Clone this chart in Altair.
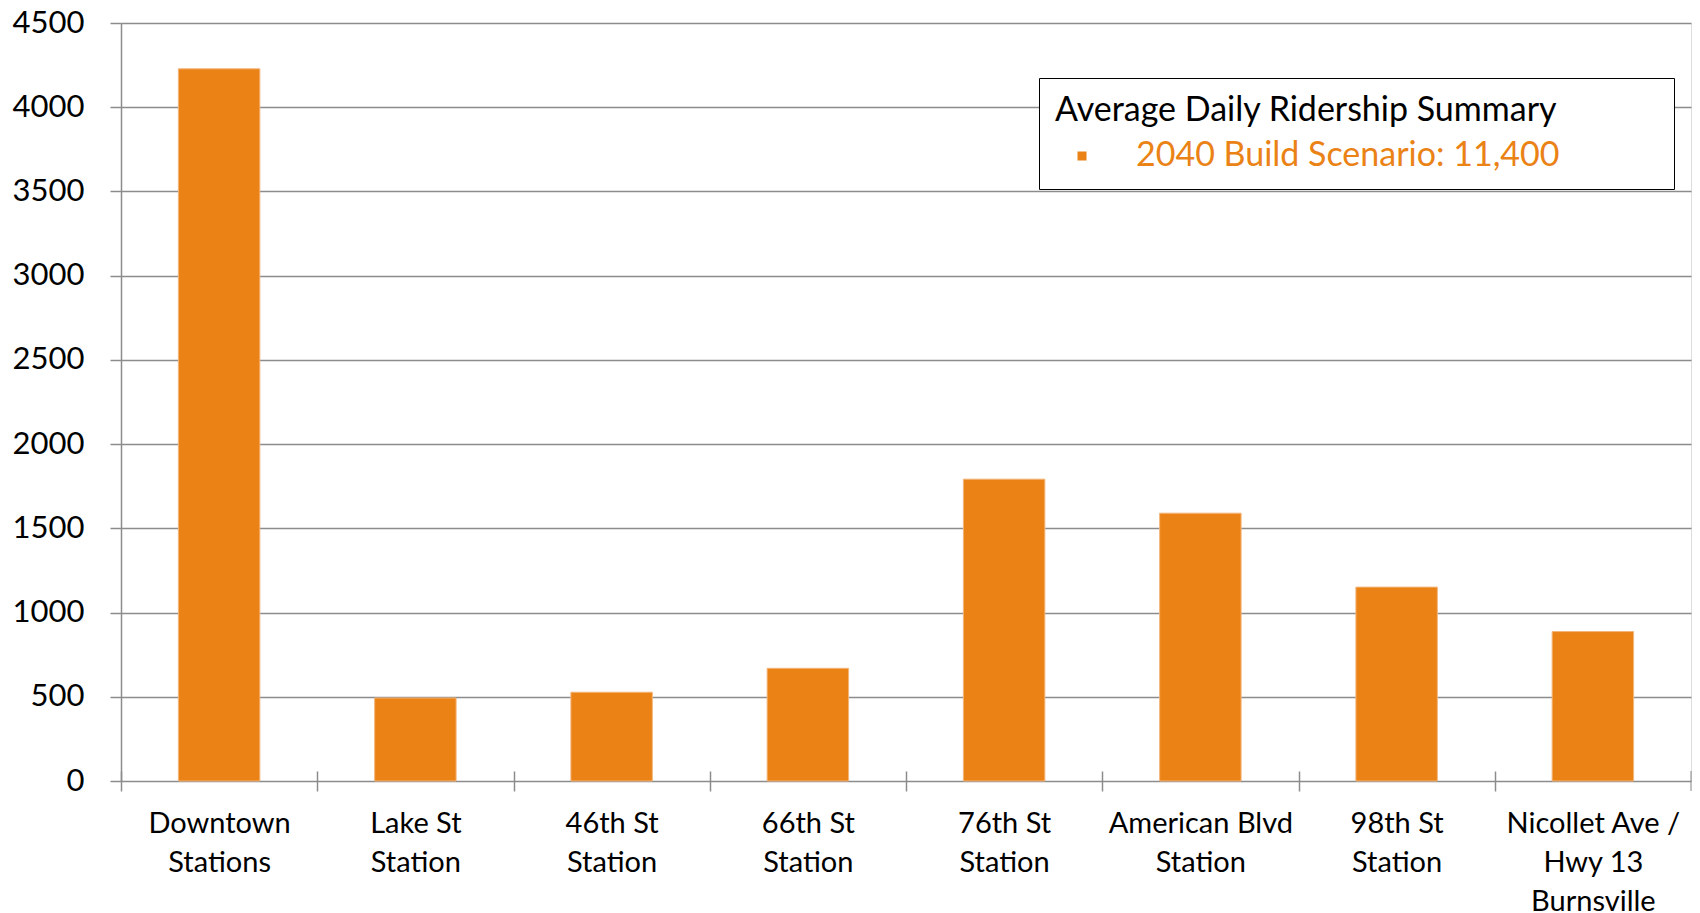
import altair as alt
import pandas as pd

stations = [
    "Downtown\nStations",
    "Lake St\nStation",
    "46th St\nStation",
    "66th St\nStation",
    "76th St\nStation",
    "American Blvd\nStation",
    "98th St\nStation",
    "Nicollet Ave /\nHwy 13\nBurnsville",
]
riders = [4228, 493, 527, 669, 1792, 1590, 1151, 887]
series_name = "2040 Build Scenario: 11,400"
legend_title = "Average Daily Ridership Summary"
y_ticks = list(range(0, 4501, 500))

ORANGE = "#EA8216"
GRID = "#8c8c8c"
FONT = "Lato"

PLOT_W = 1570
PAD_IN = 0.585
STEP = PLOT_W / len(stations)
HALF_GAP = STEP * PAD_IN / 2

df = pd.DataFrame({"station": stations, "riders": riders, "series": series_name})

x_enc = alt.X(
    "station:N",
    sort=stations,
    title=None,
    scale=alt.Scale(paddingInner=PAD_IN, paddingOuter=PAD_IN / 2),
    axis=alt.Axis(
        labelAngle=0,
        labelExpr="split(datum.label, '\\n')",
        labelFontSize=29,
        labelLineHeight=39,
        labelColor="black",
        labelFont=FONT,
        labelPadding=18,
        labelLimit=400,
        labelOffset=HALF_GAP,
        bandPosition=0,
        tickOffset=-HALF_GAP,
        ticks=True,
        tickSize=20,
        tickColor=GRID,
        tickWidth=1.5,
        domain=False,
        offset=-10,
        grid=False,
    ),
)

bars = alt.Chart(df).mark_bar(stroke="#f3b57a", strokeWidth=1).encode(
    x=x_enc,
    y=alt.Y(
        "riders:Q",
        title=None,
        scale=alt.Scale(domain=[0, 4500], nice=False),
        axis=alt.Axis(
            values=y_ticks,
            format="d",
            labelFontSize=31,
            labelColor="black",
            labelFont=FONT,
            labelPadding=26,
            tickSize=11,
            tickColor=GRID,
            tickWidth=1.5,
            domainColor=GRID,
            domainWidth=1.5,
            grid=True,
            gridColor=GRID,
            gridWidth=1.5,
        ),
    ),
    color=alt.Color(
        "series:N",
        scale=alt.Scale(domain=[series_name], range=[ORANGE]),
        legend=alt.Legend(
            title=legend_title + "\u2800" * 4,
            orient="none",
            legendX=918,
            legendY=55,
            padding=16,
            strokeColor="black",
            fillColor="white",
            titleFontSize=34,
            titleFontWeight="normal",
            titleColor="black",
            titleFont=FONT,
            titlePadding=11,
            titleLimit=900,
            labelFontSize=34,
            labelColor=ORANGE,
            labelFont=FONT,
            labelLimit=800,
            labelOffset=37,
            symbolType="square",
            symbolSize=81,
            symbolOffset=10,
            symbolStrokeWidth=0,
        ),
    ),
)

end_tick = alt.Chart(df.tail(1)).mark_tick(
    orient="vertical", size=20, thickness=1.5, color=GRID, xOffset=HALF_GAP
).encode(
    x=alt.X("station:N", sort=stations, bandPosition=1),
    y=alt.datum(0),
)

chart = (
    alt.layer(bars, end_tick)
    .properties(
        width=PLOT_W,
        height=758,
        autosize=alt.AutoSizeParams(type="none"),
        padding={"left": 113, "top": 15, "right": 1, "bottom": 132},
    )
    .configure_view(stroke=None)
    .configure_legend(strokeWidth=3)
    .configure(font=FONT)
)

chart.save("out.html", embed_options={"renderer": "svg", "actions": False})
